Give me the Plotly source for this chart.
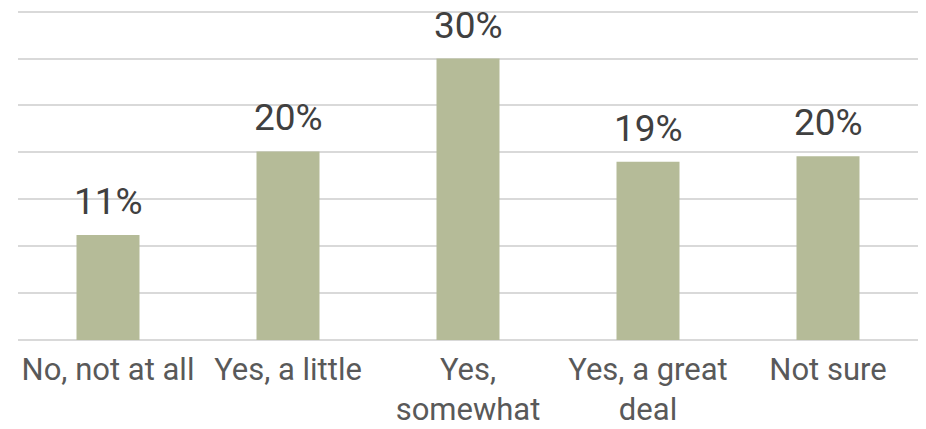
import plotly.graph_objects as go

categories = ["No, not at all", "Yes, a little", "Yes,<br>somewhat", "Yes, a great<br>deal", "Not sure"]
values = [11.2, 20.1, 30.0, 19.0, 19.6]
labels = ["11%", "20%", "30%", "19%", "20%"]

FONT = "Roboto, Arial, sans-serif"

fig = go.Figure()
fig.add_trace(go.Bar(
    x=categories, y=values,
    marker=dict(color="#b5bb98", line=dict(width=0)),
    width=0.35,
    hoverinfo="skip",
))

for c, v, t in zip(categories, values, labels):
    fig.add_annotation(x=c, y=v, text=t, showarrow=False, yanchor="bottom",
                       yshift=10, font=dict(family=FONT, size=37, color="#404040"))

fig.update_layout(
    width=926, height=429,
    margin=dict(l=18, r=8, t=7, b=89),
    paper_bgcolor="white", plot_bgcolor="white",
    showlegend=False,
    font=dict(family=FONT),
    xaxis=dict(showgrid=False, showline=False, ticks="", zeroline=False,
               automargin=False,
               tickfont=dict(family=FONT, size=31, color="#595959"),
               ticklabelstandoff=8),
    yaxis=dict(range=[0, 35.5], dtick=5, showticklabels=False, showgrid=True,
               automargin=False,
               gridcolor="#d9d9d9", gridwidth=2, zeroline=True,
               zerolinecolor="#d9d9d9", zerolinewidth=2, showline=False, ticks=""),
)

fig.write_html("out.html")
